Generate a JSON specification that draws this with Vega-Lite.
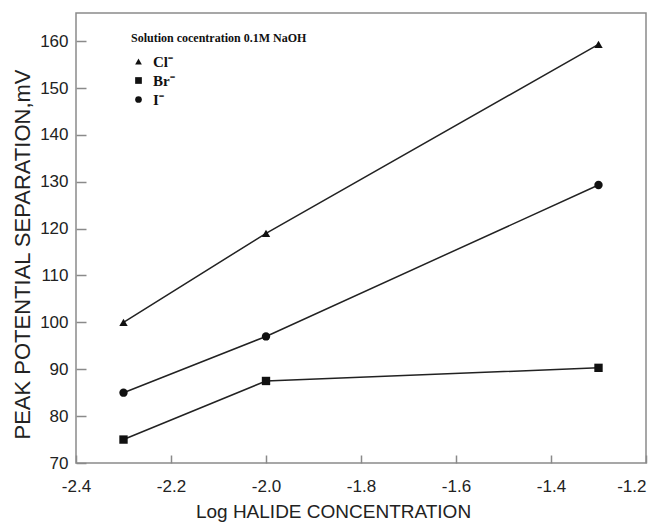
{
  "$schema": "https://vega.github.io/schema/vega-lite/v6.json",
  "width": 570,
  "height": 450,
  "autosize": "none",
  "padding": {"left": 76, "top": 13, "right": 8, "bottom": 61},
  "background": "white",
  "config": {
    "view": {"stroke": "#8a8a8a", "strokeWidth": 1.5},
    "font": "Liberation Sans",
    "axis": {
      "domain": false,
      "tickColor": "#8a8a8a",
      "tickWidth": 1.5,
      "grid": false,
      "labelFont": "Liberation Sans",
      "labelFontSize": 17,
      "labelColor": "#222",
      "titleFont": "Liberation Sans",
      "titleFontWeight": "normal",
      "titleColor": "#222",
      "labelFlush": false
    }
  },
  "data": {
    "values": [
      {"ion": "Cl⁻", "logc": -2.3, "dE": 100},
      {"ion": "Cl⁻", "logc": -2.0, "dE": 119},
      {"ion": "Cl⁻", "logc": -1.3, "dE": 159.3},
      {"ion": "Br⁻", "logc": -2.3, "dE": 75},
      {"ion": "Br⁻", "logc": -2.0, "dE": 87.5},
      {"ion": "Br⁻", "logc": -1.3, "dE": 90.3},
      {"ion": "I⁻", "logc": -2.3, "dE": 85},
      {"ion": "I⁻", "logc": -2.0, "dE": 97},
      {"ion": "I⁻", "logc": -1.3, "dE": 129.3}
    ]
  },
  "encoding": {
    "x": {
      "field": "logc",
      "type": "quantitative",
      "scale": {"domain": [-2.4, -1.2], "nice": false, "zero": false},
      "axis": {
        "title": "Log HALIDE CONCENTRATION",
        "titleFontSize": 19,
        "titleX": 257,
        "titleY": 62,
        "titleAlign": "center",
        "titleBaseline": "alphabetic",
        "values": [-2.4, -2.2, -2.0, -1.8, -1.6, -1.4, -1.2],
        "labelExpr": "replace(format(datum.value, '.1f'), '\u2212', '-')",
        "labelAlign": {"condition": {"test": "datum.value > -1.25", "value": "right"}, "value": "center"},
        "offset": -8,
        "tickSize": 8,
        "labelPadding": 15
      }
    },
    "y": {
      "field": "dE",
      "type": "quantitative",
      "scale": {"domain": [70, 166], "nice": false, "zero": false},
      "axis": {
        "title": "PEAK POTENTIAL SEPARATION,mV",
        "titleFontSize": 22,
        "titleAngle": -90,
        "titleX": -64,
        "titleY": 241,
        "titleAlign": "center",
        "titleBaseline": "middle",
        "values": [70, 80, 90, 100, 110, 120, 130, 140, 150, 160],
        "offset": -10,
        "tickSize": 10,
        "labelPadding": 8
      }
    }
  },
  "layer": [
    {
      "mark": {"type": "line", "color": "#222", "strokeWidth": 1.5},
      "encoding": {"detail": {"field": "ion", "type": "nominal"}}
    },
    {
      "mark": {"type": "point", "filled": true, "color": "#111", "opacity": 1, "size": 70},
      "encoding": {
        "shape": {
          "field": "ion",
          "type": "nominal",
          "scale": {"domain": ["Cl⁻", "Br⁻", "I⁻"], "range": ["triangle-up", "square", "circle"]},
          "legend": {
            "orient": "none",
            "legendX": 55,
            "legendY": 20,
            "title": "Solution cocentration 0.1M NaOH",
            "titleFont": "Liberation Serif",
            "titleFontWeight": "bold",
            "titleFontSize": 12,
            "titleColor": "#111",
            "titlePadding": 9,
            "labelFont": "Liberation Serif",
            "labelFontWeight": "bold",
            "labelFontSize": 15,
            "labelColor": "#111",
            "symbolSize": 45,
            "symbolFillColor": "#111",
            "symbolStrokeColor": "#111",
            "rowPadding": 3,
            "labelOffset": 7
          }
        }
      }
    }
  ]
}
